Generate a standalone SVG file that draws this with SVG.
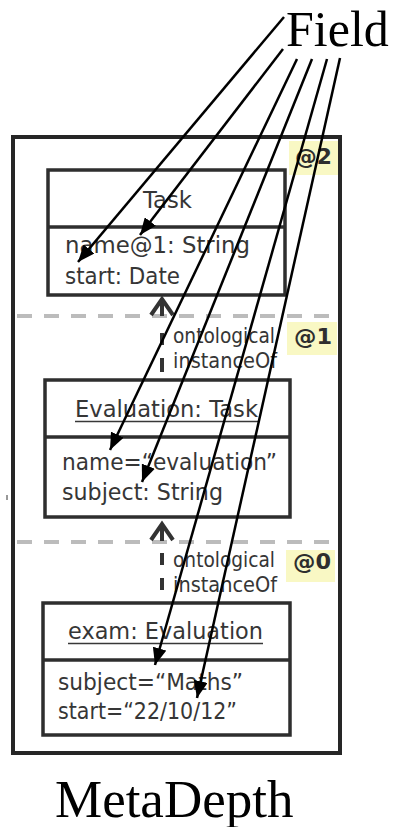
<svg xmlns="http://www.w3.org/2000/svg" width="396" height="827" viewBox="0 0 396 827">
<style>
.box{fill:#fff;stroke:#2e2e2e;stroke-width:3.5}
.div{stroke:#2e2e2e;stroke-width:3.5}
.t{font-family:"DejaVu Sans","Liberation Sans",sans-serif;font-size:23px;fill:#363636}
.s{font-family:"DejaVu Sans Condensed","DejaVu Sans","Liberation Sans",sans-serif;font-size:21px;fill:#363636}
.lv{font-family:"DejaVu Sans","Liberation Sans",sans-serif;font-size:22px;font-weight:bold;fill:#2e2e2e}
.ybg{fill:#f9f8c4}
.ul{stroke:#383838;stroke-width:1.5}
.sep{stroke:#bcbcbc;stroke-width:4;stroke-dasharray:15 12}
.inst{stroke:#333;stroke-width:4;fill:none}
.fld{stroke:#000;stroke-width:2.5;fill:none;marker-end:url(#ah)}
.big{font-family:"Liberation Serif","Times New Roman",serif;fill:#000}
</style>
<defs>
<marker id="ah" markerUnits="userSpaceOnUse" markerWidth="18" markerHeight="14" viewBox="0 0 18 14" refX="17" refY="7" orient="auto">
<path d="M0,0 L17,7 L0,14 Z" fill="#000"/>
</marker>
</defs>
<rect width="396" height="827" fill="#fff"/>

<g id="frame">
<rect x="13" y="137" width="327" height="616" fill="none" stroke="#262626" stroke-width="4"/>
<line x1="7" y1="495" x2="7" y2="500" stroke="#333" stroke-width="1"/>
</g>

<g id="separators">
<line class="sep" x1="17" y1="316" x2="332" y2="316"/>
<line class="sep" x1="17" y1="542" x2="332" y2="542"/>
</g>

<g id="level2">
<rect class="ybg" x="289" y="141" width="49" height="34"/>
<text class="lv" x="295" y="164" textLength="37" lengthAdjust="spacingAndGlyphs">@2</text>
</g>
<g id="level1">
<rect class="ybg" x="287" y="322" width="50" height="33"/>
<text class="lv" x="294" y="344" textLength="38" lengthAdjust="spacingAndGlyphs">@1</text>
</g>
<g id="level0">
<rect class="ybg" x="286" y="550" width="49" height="32"/>
<text class="lv" x="293" y="569" textLength="38" lengthAdjust="spacingAndGlyphs">@0</text>
</g>

<g id="task">
<rect class="box" x="48" y="170" width="237" height="125"/>
<line class="div" x1="48" y1="227" x2="285" y2="227"/>
<text class="t" x="143" y="208" textLength="49" lengthAdjust="spacingAndGlyphs">Task</text>
<text class="t" x="65" y="253" textLength="185" lengthAdjust="spacingAndGlyphs">name@1: String</text>
<text class="t" x="65" y="284" textLength="115" lengthAdjust="spacingAndGlyphs">start: Date</text>
</g>

<g id="evaluation">
<rect class="box" x="45" y="380" width="245" height="137"/>
<line class="div" x1="45" y1="437" x2="290" y2="437"/>
<text class="t" x="75" y="417" textLength="183" lengthAdjust="spacingAndGlyphs">Evaluation: Task</text>
<line class="ul" x1="75" y1="421.5" x2="258" y2="421.5"/>
<text class="t" x="62" y="470" textLength="215" lengthAdjust="spacingAndGlyphs">name=“evaluation”</text>
<text class="t" x="62" y="500" textLength="161" lengthAdjust="spacingAndGlyphs">subject: String</text>
</g>

<g id="exam">
<rect class="box" x="43" y="603" width="247" height="132"/>
<line class="div" x1="43" y1="660" x2="290" y2="660"/>
<text class="t" x="68" y="639" textLength="195" lengthAdjust="spacingAndGlyphs">exam: Evaluation</text>
<line class="ul" x1="68" y1="643.5" x2="263" y2="643.5"/>
<text class="t" x="58" y="690" textLength="185" lengthAdjust="spacingAndGlyphs">subject=“Maths”</text>
<text class="t" x="58" y="719" textLength="179" lengthAdjust="spacingAndGlyphs">start=“22/10/12”</text>
</g>

<g id="instanceOf1">
<line class="inst" x1="162" y1="299" x2="162" y2="316"/>
<path class="inst" d="M151,315 L162,299 L173,315"/>
<line class="inst" x1="162" y1="333" x2="162" y2="345"/>
<line class="inst" x1="162" y1="358" x2="162" y2="372"/>
<text class="s" x="173" y="343" textLength="102" lengthAdjust="spacingAndGlyphs">ontological</text>
<text class="s" x="173" y="368" textLength="104" lengthAdjust="spacingAndGlyphs">instanceOf</text>
</g>

<g id="instanceOf0">
<line class="inst" x1="162" y1="524" x2="162" y2="541"/>
<path class="inst" d="M151,540 L162,524 L173,540"/>
<line class="inst" x1="162" y1="553" x2="162" y2="565"/>
<line class="inst" x1="162" y1="578" x2="162" y2="590"/>
<text class="s" x="173" y="567" textLength="102" lengthAdjust="spacingAndGlyphs">ontological</text>
<text class="s" x="173" y="592" textLength="104" lengthAdjust="spacingAndGlyphs">instanceOf</text>
</g>

<g id="field">
<text class="big" x="286" y="46" font-size="50">Field</text>
</g>

<g id="connectors">
<line class="fld" x1="284" y1="17" x2="78" y2="262"/>
<line class="fld" x1="283" y1="49" x2="140" y2="235"/>
<line class="fld" x1="297" y1="59" x2="110" y2="450"/>
<line class="fld" x1="312" y1="59" x2="142" y2="482"/>
<line class="fld" x1="327" y1="59" x2="155" y2="665"/>
<line class="fld" x1="340" y1="58" x2="197" y2="698"/>
</g>

<g id="metadepth">
<text class="big" x="55" y="817" font-size="53">MetaDepth</text>
</g>
</svg>
